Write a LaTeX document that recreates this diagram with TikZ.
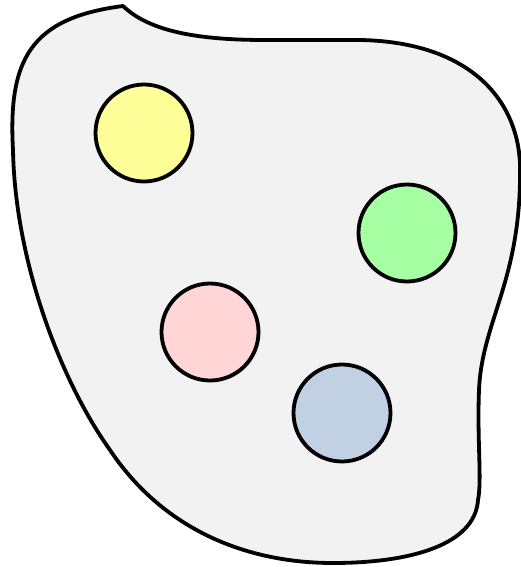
\documentclass[tikz,border=0pt]{standalone}
\usetikzlibrary{shadows}
\definecolor{blobfill}{RGB}{242,242,242}
\definecolor{cyellow}{RGB}{255,255,153}
\definecolor{cgreen}{RGB}{166,255,163}
\definecolor{cpink}{RGB}{255,213,213}
\definecolor{cblue}{RGB}{193,208,227}
\tikzset{
  blob/.style={draw=black, fill=blobfill, line width=3.8pt, line join=round},
  circ/.style={circle, draw=black, line width=3.8pt, minimum size=97pt, inner sep=0pt}
}
\begin{document}
\begin{tikzpicture}[x=1pt,y=-1pt]
\useasboundingbox (0,0) rectangle (521,567);
\path[blob] (123,6) .. controls (150,32) and (200,40) .. (265,40)
  -- (360,40) .. controls (470,42) and (518,100) .. (520,165)
  .. controls (522,280) and (482,320) .. (479,390)
  .. controls (477,440) and (482,480) .. (478,500)
  .. controls (475,545) and (410,563) .. (333,563)
  .. controls (240,563) and (160,525) .. (110,450)
  .. controls (60,380) and (15,260) .. (13,150)
  .. controls (8,60) and (30,18) .. (123,6) -- cycle;
\node[circ, fill=cyellow] (yellow) at (144,133) {};
\node[circ, fill=cgreen] (green) at (407,233) {};
\node[circ, fill=cpink, drop shadow={opacity=0.15, shadow xshift=2pt, shadow yshift=-2pt}] (pink) at (210,332) {};
\node[circ, fill=cblue] (blue) at (342,413) {};
\end{tikzpicture}
\end{document}
